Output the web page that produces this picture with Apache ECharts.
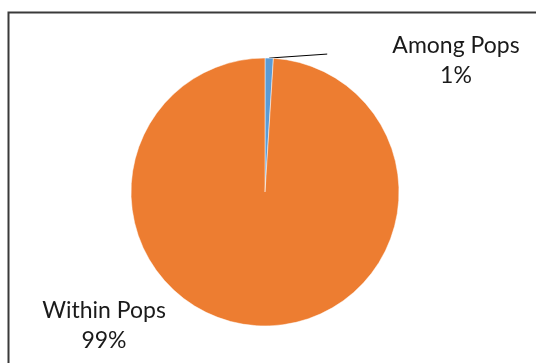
<!DOCTYPE html>
<html><head><meta charset="utf-8">
<script src="https://cdn.jsdelivr.net/npm/echarts@6/dist/echarts.min.js"></script>
<style>html,body{margin:0;padding:0;background:#fff}#c{width:536px;height:363px}</style>
</head><body><div id="c"></div>
<script>
var categories = ['Among Pops', 'Within Pops'];
var values = [1, 99];
var colors = ['#5B9BD5', '#ED7D31'];

var chart = echarts.init(document.getElementById('c'), null, {renderer: 'canvas'});
var data = categories.map(function (n, i) {
  return {
    name: n, value: values[i], itemStyle: {color: colors[i]},
    labelLine: {show: i === 0}
  };
});
chart.setOption({
  animation: false,
  graphic: [
    {type: 'polyline', shape: {points: [[8.5, 400], [8.5, 12.5], [600, 12.5]]},
     style: {stroke: '#3a3a3a', lineWidth: 2, fill: null}, silent: true}
  ],
  series: [{
    type: 'pie',
    center: [265, 192],
    radius: [0, 134],
    startAngle: 90,
    clockwise: true,
    data: data,
    itemStyle: {borderColor: '#ffffff', borderWidth: 0.5},
    label: {
      show: true, position: 'outside',
      formatter: function (p) { return p.name + '\n' + Math.round(p.percent) + '%'; },
      fontFamily: 'Lato', fontSize: 23, color: '#1a1a1a', lineHeight: 30, align: 'center'
    },
    labelLine: {show: true, lineStyle: {color: '#000', width: 1}},
    labelLayout: function (p) {
      if (p.dataIndex === 0) {
        var s = p.labelLinePoints ? p.labelLinePoints[0] : [270, 58];
        return {x: 456, y: 61, align: 'center', verticalAlign: 'middle',
                labelLinePoints: [s, [s[0] + 58, s[1] - 4], [s[0] + 58, s[1] - 4]]};
      }
      return {x: 104, y: 326, align: 'center', verticalAlign: 'middle'};
    }
  }]
});
</script></body></html>
